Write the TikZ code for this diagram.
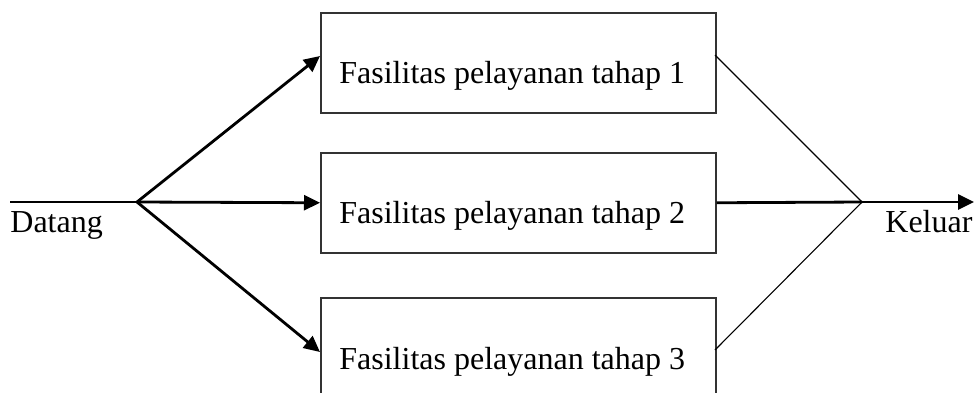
\documentclass[tikz,border=0pt]{standalone}
\usepackage{fontspec}
\setmainfont{Liberation Serif}
\usetikzlibrary{arrows.meta}
\begin{document}
\begin{tikzpicture}[x=0.5pt,y=-0.5pt,
  stagebox/.style={draw=black!80,line width=0.75pt,minimum width=197.5pt,minimum height=50pt,inner sep=0pt,anchor=north west},
  stagetext/.style={anchor=base west,inner sep=0pt,font=\fontsize{16}{19}\selectfont},
  flowlabel/.style={anchor=base west,inner sep=0pt,font=\fontsize{16}{19}\selectfont},
  flow/.style={line width=1.4pt,-{Triangle[length=8pt,width=7.5pt]}},
  thickline/.style={line width=1.4pt},
  thinline/.style={line width=0.55pt}]
\useasboundingbox (0,0) rectangle (974,392);
\clip (0,0) rectangle (974,392);

% service stages
\node[stagebox] (b1) at (320,12) {};
\node[stagebox] (b2) at (320,152) {};
\node[stagebox] (b3) at (320,297) {};
\node[stagetext] (t1) at (339,83) {Fasilitas pelayanan tahap 1};
\node[stagetext] (t2) at (339,223) {Fasilitas pelayanan tahap 2};
\node[stagetext] (t3) at (339,369) {Fasilitas pelayanan tahap 3};

% branch and merge points
\coordinate (start) at (10,202);
\coordinate (split) at (137,202);
\coordinate (in1) at (320,56);
\coordinate (in3) at (320,352);
\coordinate (out1) at (715,55);
\coordinate (out3) at (715,350);
\coordinate (merge) at (862,202);
\coordinate (exit) at (974,202);

% arrivals
\draw[thickline] (start) -- (split);
\draw[flow] (split) -- (in1);
\draw[flow] (split) -- (b2.west);
\draw[flow] (split) -- (in3);

% departures
\draw[thinline] (out1) -- (merge) -- (out3);
\draw[thickline] (b2.east) -- (merge);
\draw[flow] (merge) -- (exit);

% labels
\node[flowlabel] (datang) at (10,232) {Datang};
\node[flowlabel] (keluar) at (885,232) {Keluar};
\end{tikzpicture}
\end{document}
